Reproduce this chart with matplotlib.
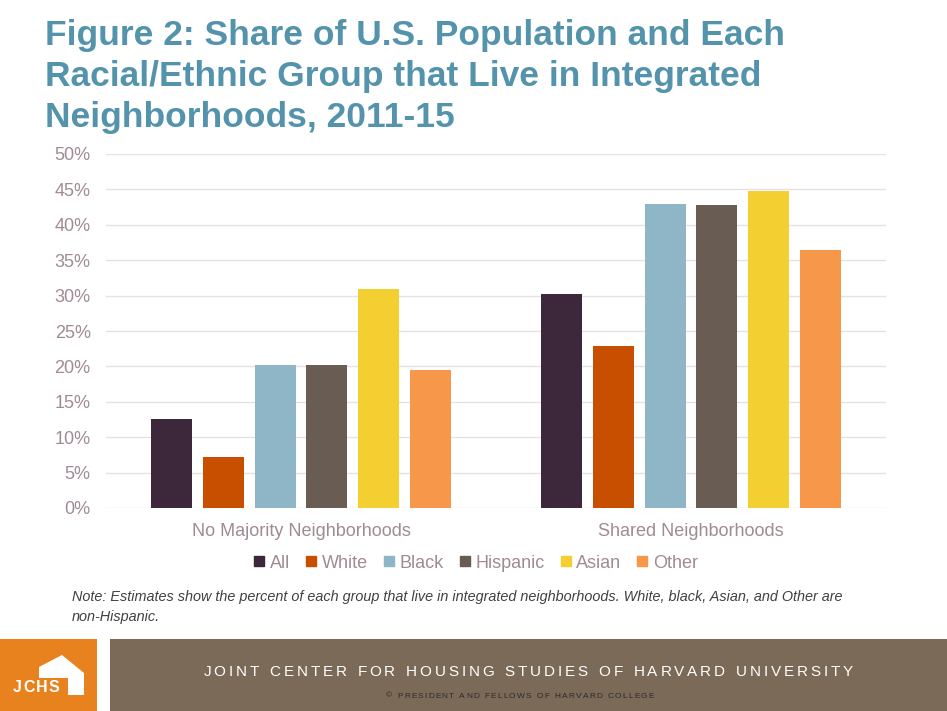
import matplotlib
matplotlib.use("Agg")
import matplotlib.pyplot as plt
import numpy as np
from matplotlib.lines import Line2D
from matplotlib.patches import Rectangle, Polygon

categories = ["No Majority Neighborhoods", "Shared Neighborhoods"]
groups = ["All", "White", "Black", "Hispanic", "Asian", "Other"]
all_vals = [12.6, 30.2]
white_vals = [7.2, 22.9]
black_vals = [20.2, 42.9]
hispanic_vals = [20.2, 42.8]
asian_vals = [30.9, 44.8]
other_vals = [19.5, 36.4]
series = [all_vals, white_vals, black_vals, hispanic_vals, asian_vals, other_vals]
colors = ["#3D283B", "#C94F00", "#8EB6C7", "#695C52", "#F4CF31", "#F69749"]
yticks = [0, 5, 10, 15, 20, 25, 30, 35, 40, 45, 50]

TXT = "#A08A96"
W, H = 947, 711
fig = plt.figure(figsize=(W / 100, H / 100), dpi=100)
plt.rcParams['font.family'] = ['Liberation Sans', 'DejaVu Sans']

def fx(px):
    return px / W

def fy(py):
    return 1 - py / H

ax = fig.add_axes([fx(106), fy(508), fx(886) - fx(106), (508 - 154) / H])
x = np.arange(len(categories))
pitch = 0.133
bw = 0.105
for i, (vals, c) in enumerate(zip(series, colors)):
    ax.bar(x + (i - 2.5) * pitch, vals, width=bw, color=c, zorder=3)
ax.set_xlim(-0.5, 1.5)
ax.set_ylim(0, 50)
ax.set_yticks(yticks)
ax.set_yticklabels([f"{v}%" for v in yticks])
ax.set_xticks(x)
ax.set_xticklabels(categories)
ax.grid(axis="y", color="#E6E1E4", linewidth=1.0, zorder=0)
for s in ax.spines.values():
    s.set_visible(False)
ax.tick_params(axis="both", length=0, labelsize=13, labelcolor=TXT)
ax.tick_params(axis="y", pad=11)
ax.tick_params(axis="x", pad=11)

# Title
fig.text(fx(45), fy(19), "Figure 2: Share of U.S. Population and Each\nRacial/Ethnic Group that Live in Integrated\nNeighborhoods, 2011-15",
         ha="left", va="top", fontsize=25.5, fontweight="bold", color="#5393AB", linespacing=1.3)

# Legend
handles = [Line2D([0], [0], marker="s", linestyle="none", markersize=7.5, markerfacecolor=c, markeredgecolor=c) for c in colors]
fig.legend(handles, groups, loc="center", bbox_to_anchor=(fx(476), fy(563)), ncol=6, frameon=False,
           fontsize=13, labelcolor=TXT, handlelength=0.6, handletextpad=0.3, columnspacing=0.85)

# Note
fig.text(fx(72), fy(590), "Note: Estimates show the percent of each group that live in integrated neighborhoods. White, black, Asian, and Other are\nnon-Hispanic.",
         ha="left", va="top", fontsize=10.4, style="italic", color="#404040", linespacing=1.5)

# Footer
fig.patches.append(Rectangle((fx(0), 0), fx(97), (711 - 639) / H, transform=fig.transFigure, facecolor="#E8821E", edgecolor="none"))
fig.patches.append(Rectangle((fx(110), 0), 1 - fx(110), (711 - 639) / H, transform=fig.transFigure, facecolor="#7B6A57", edgecolor="none"))
house = [(39, 678), (39, 667), (62, 655), (84, 673), (84, 695), (68, 695), (68, 678)]
fig.patches.append(Polygon([(fx(a), fy(b)) for a, b in house], closed=True, transform=fig.transFigure, facecolor="white", edgecolor="none"))

def spaced_text(s, xc, yc, size, color, track, weight="normal", ha_left=None):
    r = fig.canvas.get_renderer()
    widths = []
    for ch in s:
        t = fig.text(0, 0, ch if ch != " " else "n", fontsize=size, fontweight=weight)
        bb = t.get_window_extent(renderer=r)
        widths.append(bb.width if ch != " " else bb.width * 0.6)
        t.remove()
    total = sum(widths) + track * (len(s) - 1)
    xpos = xc - total / 2 if ha_left is None else ha_left
    for ch, w in zip(s, widths):
        if ch != " ":
            fig.text(fx(xpos), fy(yc), ch, ha="left", va="center", fontsize=size, color=color, fontweight=weight)
        xpos += w + track

spaced_text("JCHS", 0, 688, 11.5, "white", 1.2, weight="bold", ha_left=13)
spaced_text("JOINT CENTER FOR HOUSING STUDIES OF HARVARD UNIVERSITY", 528, 672, 11, "white", 2.85)
spaced_text("© PRESIDENT AND FELLOWS OF HARVARD COLLEGE", 520, 696, 6, "#2E2A26", 1.2)

fig.savefig("out.png", dpi=100)
